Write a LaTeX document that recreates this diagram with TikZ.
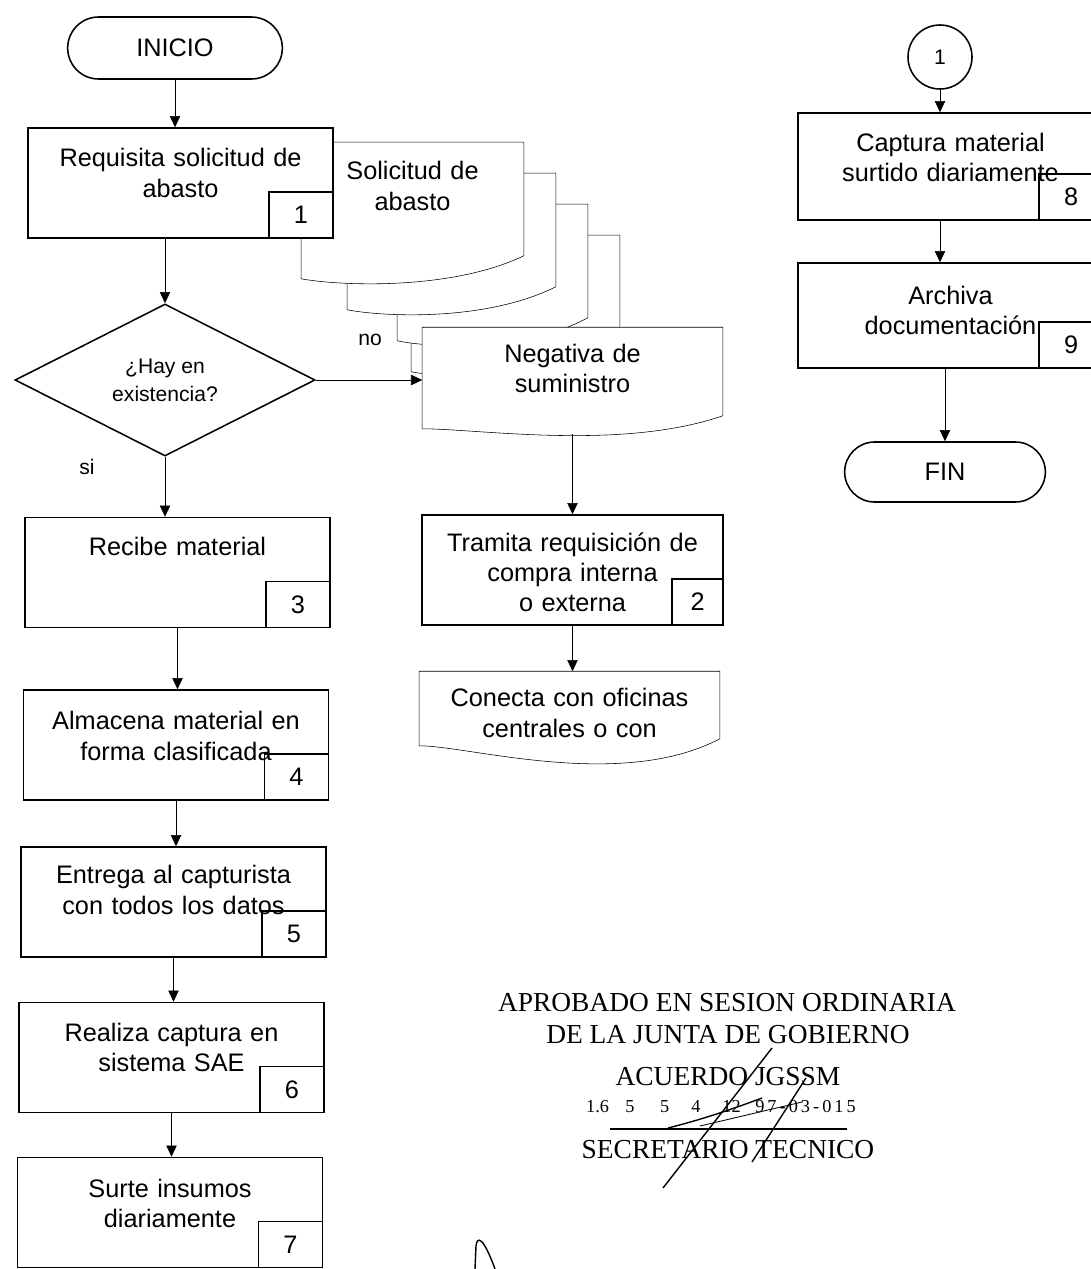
\documentclass[tikz,border=0pt]{standalone}
\usepackage{fontspec}
\setmainfont{Liberation Sans}
\newfontfamily\sello{Liberation Serif}
\usetikzlibrary{arrows.meta,shapes.geometric,shapes.misc,backgrounds}

\begin{document}
\begin{tikzpicture}[
    x=0.025cm, y=-0.025cm, line width=1.1pt,
    every node/.style={font=\fontsize{18}{21.5}\selectfont},
    terminal/.style={draw, rounded rectangle, minimum width=5.6cm, minimum height=1.55cm},
    proceso/.style={draw, fill=white, minimum width=7.625cm, minimum height=2.75cm, text width=7.2cm, align=center, inner sep=0pt, text depth=1.26cm},
    numero/.style={draw, anchor=south east, minimum width=1.6cm, minimum height=1.15cm, inner sep=0pt},
    decision/.style={draw, fill=white, diamond, minimum width=7.5cm, minimum height=3.8cm, inner sep=0pt, align=center, font=\fontsize{15}{20}\selectfont},
    documento/.style={minimum height=2.8cm, inner sep=0pt, text width=5cm, align=center},
    conector/.style={draw, circle, minimum size=1.6cm, inner sep=0pt, font=\fontsize{15}{18}\selectfont},
    etiqueta/.style={font=\fontsize{15}{18}\selectfont},
    sellotxt/.style={font=\sello\fontsize{19.5}{22}\selectfont},
    flecha/.style={-{Triangle[length=2.8mm, width=2.6mm]}}
]
\useasboundingbox (0,0) rectangle (1091,1269);

% columna izquierda
\node[terminal] (ini) at (175,48) {INICIO};
\node[proceso] (req) at (180.5,183) {Requisita solicitud de\\abasto};
\node[numero] (nreq) at (req.south east) {1};
\node[decision] (hay) at (165,380) {¿Hay en\\existencia?};
\node[etiqueta] (si) at (87,467) {si};
\node[proceso, text depth=1.3cm] (rec) at (177.5,572.5) {Recibe material};
\node[numero] (nrec) at (rec.south east) {3};
\node[proceso, text depth=1.21cm] (alm) at (176,745) {Almacena material en\\forma clasificada};
\node[numero] (nalm) at (alm.south east) {4};
\node[proceso, text depth=1.36cm] (ent) at (173.5,902) {Entrega al capturista\\con todos los datos};
\node[numero] (nent) at (ent.south east) {5};
\node[proceso] (rea) at (171.5,1057.5) {Realiza captura en\\sistema SAE};
\node[numero] (nrea) at (rea.south east) {6};
\node[proceso, text depth=1.21cm] (sur) at (170,1212.5) {Surte insumos\\diariamente};
\node[numero] (nsur) at (sur.south east) {7};

% solicitud y copias
\node[documento, minimum width=5.525cm, text depth=1.41cm] (sol1) at (412.5,199) {Solicitud de\\abasto};
\node[documento, minimum width=5.175cm] (sol2) at (451.5,230) {};
\node[documento, minimum width=4.725cm, text width=4.5cm] (sol3) at (492.5,261) {};
\node[documento, minimum width=5.175cm] (sol4) at (515.5,292) {};

% rama del no
\node[etiqueta] (no) at (370,340) {no};
\node[documento, minimum width=7.475cm, minimum height=2.175cm, text width=7cm, text depth=0.9cm] (neg) at (572.5,371.5) {Negativa de\\suministro};
\node[proceso, minimum width=7.525cm, text depth=1.4cm] (tra) at (572.5,570) {Tramita requisición de\\compra interna\\o externa};
\node[numero, minimum width=1.275cm] (ntra) at (tra.south east) {2};
\node[documento, minimum width=7.475cm, minimum height=1.65cm, text width=7cm, text depth=0.36cm] (con) at (569.5,705) {Conecta con oficinas\\centrales o con};

% columna derecha
\node[conector] (c1) at (940,57) {1};
\node[proceso, minimum height=2.675cm, text depth=1.21cm] (cap) at (950.5,166.5) {Captura material\\surtido diariamente};
\node[numero] (ncap) at (cap.south east) {8};
\node[proceso, minimum height=2.625cm, text depth=1.01cm] (arc) at (950.5,315.5) {Archiva\\documentación};
\node[numero] (narc) at (arc.south east) {9};
\node[terminal, minimum width=5.25cm, minimum height=1.5cm] (fin) at (945,472) {FIN};

% contornos de documentos
\begin{pgfonlayer}{background}
\fill[white] (0,0) rectangle (1091,1269);
\draw[fill=white] (sol4.north west) -- (sol4.north east) -- (sol4.south east) .. controls +(-73,35) and +(38,7) .. ([yshift=-0.575cm]sol4.south west) -- cycle;
\draw[fill=white] (sol3.north west) -- (sol3.north east) -- (sol3.south east) .. controls +(-65,35) and +(34,7) .. ([yshift=-0.575cm]sol3.south west) -- cycle;
\draw[fill=white] (sol2.north west) -- (sol2.north east) -- (sol2.south east) .. controls +(-70,35) and +(36,7) .. ([yshift=-0.575cm]sol2.south west) -- cycle;
\draw[fill=white] (sol1.north west) -- (sol1.north east) -- (sol1.south east) .. controls +(-73,35) and +(38,7) .. ([yshift=-0.575cm]sol1.south west) -- cycle;
\draw[fill=white] (neg.north west) -- (neg.north east) -- (neg.south east) .. controls +(-102,35) and +(57,0) .. ([yshift=-0.325cm]neg.south west) -- cycle;
\draw[fill=white] (con.north west) -- (con.north east) -- (con.south east) .. controls +(-99,52) and +(50,0) .. ([yshift=-0.175cm]con.south west) -- cycle;
\end{pgfonlayer}

% flechas
\draw[flecha] (ini.south) -- (ini.south |- req.north);
\draw[flecha] (req.south -| hay.north) -- (hay.north);
\draw[flecha] (hay.south) -- (hay.south |- rec.north);
\draw[flecha] (rec.south) -- (rec.south |- alm.north);
\draw[flecha] (alm.south) -- (alm.south |- ent.north);
\draw[flecha] (ent.south) -- (ent.south |- rea.north);
\draw[flecha] (rea.south) -- (rea.south |- sur.north);
\draw[flecha] (hay.east) -- (hay.east -| neg.west);
\draw[flecha] ([yshift=-0.45cm]neg.south) -- (tra.north);
\draw[flecha] (tra.south) -- (tra.south |- con.north);
\draw[flecha] (c1.south) -- (c1.south |- cap.north);
\draw[flecha] (c1.south |- cap.south) -- (c1.south |- arc.north);
\draw[flecha] (arc.south -| fin.north) -- (fin.north);

% sello de aprobacion
\node[sellotxt] (s1) at (727,1003) {APROBADO EN SESION ORDINARIA};
\node[sellotxt] (s2) at (728,1035) {DE LA JUNTA DE GOBIERNO};
\node[sellotxt] (s3) at (728,1077) {ACUERDO JGSSM};
\node[sellotxt, font=\sello\fontsize{13}{15}\selectfont] (s4) at (721,1107) {1.6\hspace{0.9em}5\hspace{1.4em}5\hspace{1.2em}4\hspace{1.2em}12\hspace{0.8em}9\,7\,-\,0\,3\,-\,0\,1\,5};
\draw[line width=1.6pt] (610,1129) -- (847,1129);
\node[sellotxt] (s5) at (728,1150) {SECRETARIO TECNICO};
% firma
\draw[line width=1pt] (663,1188) -- (772,1048);
\draw[line width=1pt] (752,1162) -- (806,1078);
\draw[line width=1pt] (668,1128) .. controls (700,1120) and (730,1110) .. (762,1098);
\draw[line width=0.6pt] (700,1126) -- (802,1102);
\draw[line width=1pt] (475,1269) -- (476,1246) .. controls (477,1236) and (483,1236) .. (495,1269);
\end{tikzpicture}
\end{document}
